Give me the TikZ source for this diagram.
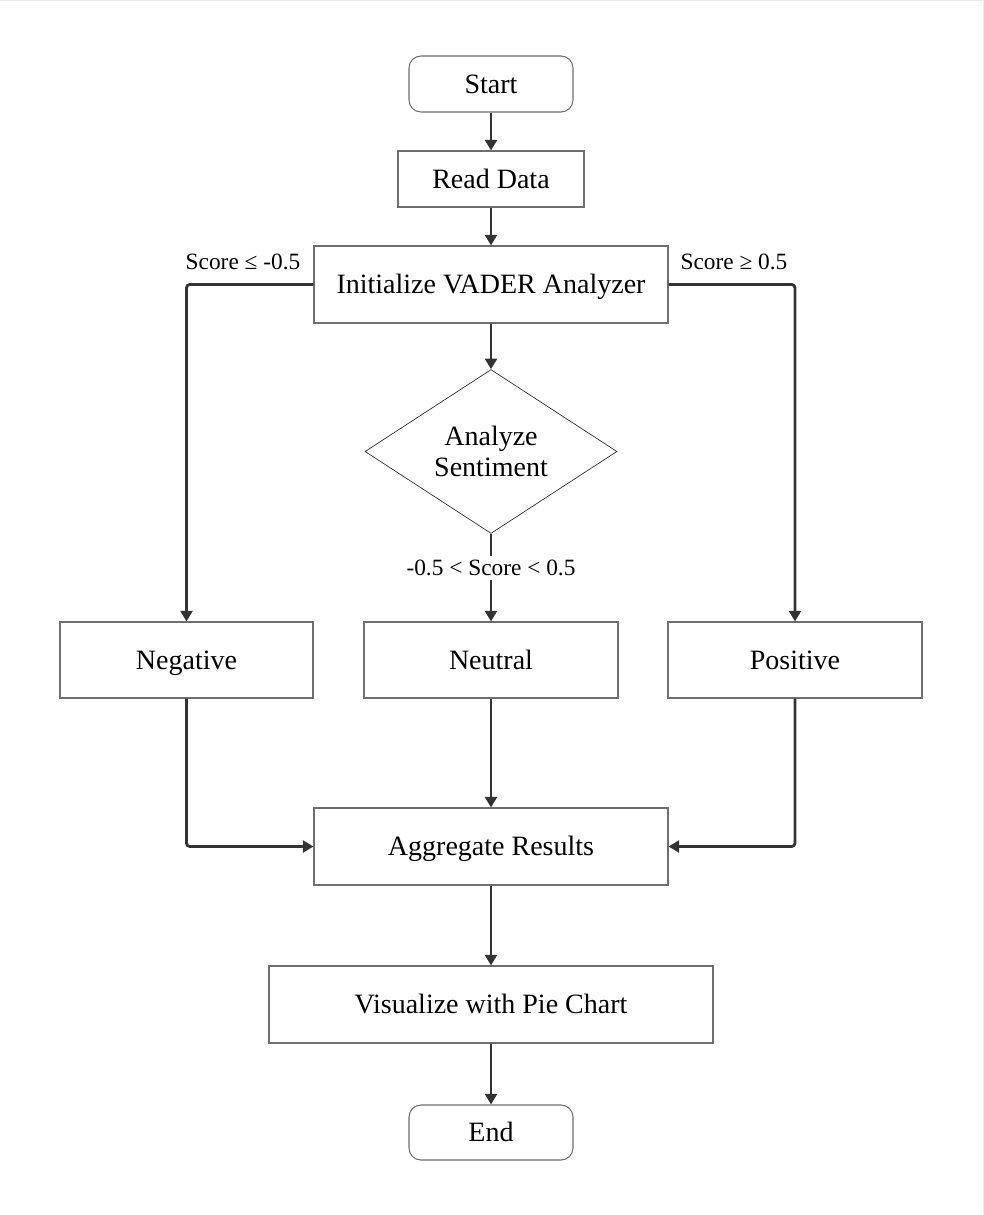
\documentclass[tikz,border=0pt]{standalone}
\usepackage{fontspec}
\setmainfont{Liberation Serif}
\usetikzlibrary{arrows.meta,shapes.geometric}
\definecolor{boxline}{HTML}{6E6E6E}
\definecolor{arrowc}{HTML}{333333}
\definecolor{edge}{HTML}{EBEBEB}
\tikzset{
  box/.style={draw=boxline, line width=0.8pt, fill=white, inner sep=0pt, font=\fontsize{21}{24}\selectfont, text=black, text height=14pt, text depth=0pt},
  roundbox/.style={box, rounded corners=9pt},
  decision/.style={draw=black!85, line width=0.5pt, diamond, fill=white, inner sep=0pt, align=center, font=\fontsize{21}{23}\selectfont},
  conn/.style={draw=arrowc, line width=2.1pt, rounded corners=2.5pt, -{Triangle[length=8pt,width=9pt]}},
  lbl/.style={font=\fontsize{17.5}{20}\selectfont, text=black, inner sep=1pt}
}
\begin{document}
\begin{tikzpicture}[x=0.75pt,y=-0.75pt]
\useasboundingbox (0,0) rectangle (984,1215);
\draw[edge, line width=1.2pt] (0,0.6) -- (983.4,0.6) -- (983.4,1215);
% nodes
\node[roundbox, minimum width=123pt, minimum height=42pt] (start) at (491,84) {Start};
\node[box, minimum width=139.5pt, minimum height=42pt] (read) at (491,179) {Read Data};
\node[box, minimum width=265.5pt, minimum height=57.75pt] (init) at (491,284.5) {Initialize VADER Analyzer};
\node[decision, minimum width=189pt, minimum height=117.75pt] (analyze) at (491,451.5) {Analyze\\Sentiment};
\node[box, minimum width=189.75pt, minimum height=57pt] (neg) at (186.5,660) {Negative};
\node[box, minimum width=190.5pt, minimum height=57pt] (neu) at (491,660) {Neutral};
\node[box, minimum width=190.5pt, minimum height=57pt] (pos) at (795,660) {Positive};
\node[box, minimum width=265.5pt, minimum height=57.75pt] (agg) at (491,846.5) {Aggregate Results};
\node[box, minimum width=333pt, minimum height=57.75pt] (vis) at (491,1004.5) {Visualize with Pie Chart};
\node[roundbox, minimum width=123pt, minimum height=41.25pt] (end) at (491,1132.5) {End};
% connectors
\draw[conn] (start) -- (read);
\draw[conn] (read) -- (init);
\draw[conn] (init) -- (analyze);
\draw[conn] (init.west) -| (neg.north);
\draw[conn] (init.east) -| (pos.north);
\draw[conn] (analyze.south) -- node[lbl, fill=white, pos=0.39, inner ysep=3pt] (lneu) {-0.5 < Score < 0.5} (neu.north);
\draw[conn] (neg.south) |- (agg.west);
\draw[conn] (pos.south) |- (agg.east);
\draw[conn] (neu) -- (agg);
\draw[conn] (agg) -- (vis);
\draw[conn] (vis) -- (end);
% labels
\node[lbl] (lneg) at (243,262) {Score ≤ -0.5};
\node[lbl] (lpos) at (734,262) {Score ≥ 0.5};
\end{tikzpicture}
\end{document}
